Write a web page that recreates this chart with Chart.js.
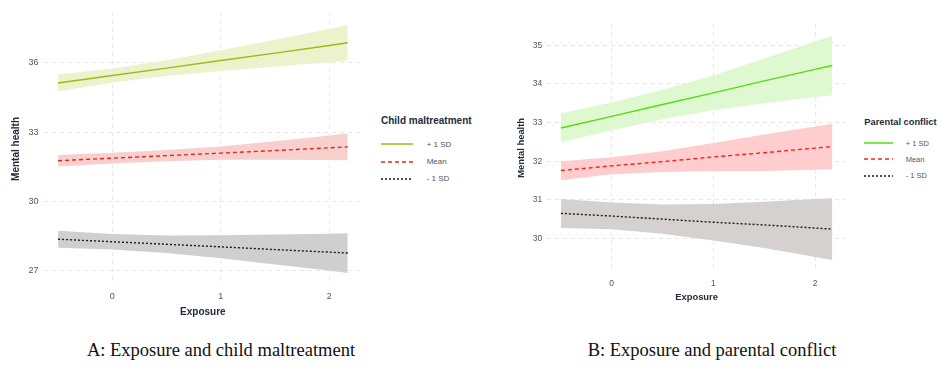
<!DOCTYPE html>
<html>
<head>
<meta charset="utf-8">
<script src="https://cdn.jsdelivr.net/npm/chart.js@4.4.0/dist/chart.umd.min.js"></script>
<style>
body { margin: 0; background: #fff; width: 939px; height: 374px; overflow: hidden; position: relative; font-family: "Liberation Sans", Arial, sans-serif; }
canvas { position: absolute; top: 0; }
#chartA { left: 0; }
#chartB { left: 480px; }
.lg-title { position: absolute; font-weight: bold; color: #222b3c; white-space: nowrap; }
.lg-label { position: absolute; color: #4d5566; white-space: nowrap; }
.lg-line { position: absolute; }
.caption { position: absolute; top: 340px; font-family: "Liberation Serif", "Times New Roman", serif; font-size: 18.5px; color: #111; white-space: nowrap; transform: translateX(-50%); }
</style>
</head>
<body>
<canvas id="chartA" width="370" height="330"></canvas>
<canvas id="chartB" width="375" height="330"></canvas>
<div id="legendA"></div>
<div id="legendB"></div>
<div class="caption" style="left:221px">A: Exposure and child maltreatment</div>
<div class="caption" style="left:712px">B: Exposure and parental conflict</div>
<script>
// exposure values where the fitted lines / ribbons were read
var exposure = [-0.5, 0, 0.5, 1, 1.5, 2, 2.17];
var seriesNames = ['+ 1 SD', 'Mean', '- 1 SD'];
var xTicks = [0, 1, 2];

// A: child maltreatment
var aHighFit   = [35.13, 35.45, 35.77, 36.10, 36.42, 36.75, 36.87];
var aHighUpper = [35.50, 35.75, 36.11, 36.55, 37.00, 37.47, 37.64];
var aHighLower = [34.76, 35.15, 35.43, 35.65, 35.84, 36.03, 36.10];
var aMeanFit   = [31.76, 31.87, 31.98, 32.09, 32.20, 32.32, 32.36];
var aMeanUpper = [32.01, 32.10, 32.22, 32.38, 32.60, 32.85, 32.94];
var aMeanLower = [31.51, 31.64, 31.74, 31.80, 31.80, 31.79, 31.78];
var aLowFit    = [28.36, 28.25, 28.14, 28.03, 27.91, 27.80, 27.76];
var aLowUpper  = [28.73, 28.59, 28.52, 28.53, 28.56, 28.60, 28.62];
var aLowLower  = [27.99, 27.91, 27.76, 27.53, 27.26, 27.00, 26.90];
var yTicksA = [27, 30, 33, 36];

// B: parental conflict
var bHighFit   = [32.86, 33.16, 33.47, 33.77, 34.08, 34.38, 34.48];
var bHighUpper = [33.24, 33.52, 33.85, 34.22, 34.66, 35.10, 35.25];
var bHighLower = [32.49, 32.80, 33.09, 33.32, 33.50, 33.66, 33.71];
var bMeanFit   = [31.76, 31.88, 31.99, 32.11, 32.22, 32.34, 32.38];
var bMeanUpper = [32.00, 32.10, 32.26, 32.47, 32.69, 32.90, 32.97];
var bMeanLower = [31.51, 31.66, 31.72, 31.75, 31.75, 31.78, 31.79];
var bLowFit    = [30.65, 30.58, 30.50, 30.42, 30.35, 30.27, 30.24];
var bLowUpper  = [31.02, 30.93, 30.88, 30.89, 30.95, 31.02, 31.04];
var bLowLower  = [30.27, 30.24, 30.12, 29.95, 29.75, 29.52, 29.44];
var yTicksB = [30, 31, 32, 33, 34, 35];

Chart.defaults.font.family = '"Liberation Sans", Arial, sans-serif';
Chart.defaults.animation = false;

var dashes = [[], [4, 3], [2, 2]];

function pts(ys) {
    return exposure.map(function (x, i) { return { x: x, y: ys[i] }; });
}

// ggplot style 5% expansion of the data range
function expand(arrs) {
    var all = [].concat.apply([], arrs);
    var lo = Math.min.apply(null, all), hi = Math.max.apply(null, all);
    var pad = (hi - lo) * 0.05;
    return [lo - pad, hi + pad];
}

function makePanel(id, p) {
    var fits = [p.fit[0], p.fit[1], p.fit[2]];
    var datasets = [];
    for (var i = 0; i < 3; i++) {
        datasets.push({
            label: seriesNames[i],
            data: pts(fits[i]),
            borderColor: p.lineColors[i],
            borderWidth: 1.4,
            borderDash: dashes[i],
            pointRadius: 0,
            fill: false
        });
    }
    for (var j = 0; j < 3; j++) {
        datasets.push({
            data: pts(p.upper[j]),
            borderWidth: 0,
            backgroundColor: p.bandColors[j],
            pointRadius: 0,
            fill: '+1'
        });
        datasets.push({
            data: pts(p.lower[j]),
            borderWidth: 0,
            pointRadius: 0,
            fill: false
        });
    }
    var xr = expand([exposure]);
    var yr = expand(p.upper.concat(p.lower));
    var grid = { color: '#e6e6e6', lineWidth: 1, drawTicks: false };
    var border = { display: false, dash: [4, 4] };

    return new Chart(document.getElementById(id).getContext('2d'), {
        type: 'line',
        data: { datasets: datasets },
        options: {
            responsive: false,
            layout: { padding: p.padding },
            plugins: { legend: { display: false }, tooltip: { enabled: false } },
            scales: {
                x: {
                    type: 'linear',
                    min: xr[0],
                    max: xr[1],
                    afterBuildTicks: function (s) { s.ticks = xTicks.map(function (v) { return { value: v }; }); },
                    afterFit: function (s) { s.height = p.xHeight; },
                    grid: grid,
                    border: border,
                    ticks: { color: '#4d5566', font: { size: p.tickSize }, padding: p.xTickPad, maxRotation: 0, autoSkip: false },
                    title: { display: true, text: 'Exposure', color: '#222b3c', font: { size: p.titleSize, weight: 'bold' }, padding: { top: 0, bottom: p.xTitlePad } }
                },
                y: {
                    type: 'linear',
                    min: yr[0],
                    max: yr[1],
                    afterBuildTicks: function (s) { s.ticks = p.yTicks.map(function (v) { return { value: v }; }); },
                    afterFit: function (s) { s.width = p.yWidth; },
                    grid: grid,
                    border: border,
                    ticks: { color: '#4d5566', font: { size: p.tickSize }, padding: 5, autoSkip: false },
                    title: { display: true, text: 'Mental health', color: '#222b3c', font: { size: p.titleSize, weight: 'bold' }, padding: { top: p.yTitlePad, bottom: 0 } }
                }
            }
        }
    });
}

makePanel('chartA', {
    fit: [aHighFit, aMeanFit, aLowFit],
    upper: [aHighUpper, aMeanUpper, aLowUpper],
    lower: [aHighLower, aMeanLower, aLowLower],
    yTicks: yTicksA,
    lineColors: ['#9cba12', '#e3261f', '#1a1a1a'],
    bandColors: ['#ecf2cc', '#f7cfcc', '#cfcfcf'],
    padding: { left: 0, top: 12.6, right: 7.8, bottom: 0 },
    yWidth: 43.6, xHeight: 44.7,
    tickSize: 9, titleSize: 10, xTickPad: 6, xTitlePad: 11.3, yTitlePad: 10
});

makePanel('chartB', {
    fit: [bHighFit, bMeanFit, bLowFit],
    upper: [bHighUpper, bMeanUpper, bLowUpper],
    lower: [bHighLower, bMeanLower, bLowLower],
    yTicks: yTicksB,
    lineColors: ['#55dd11', '#ff1f1f', '#1a1a1a'],
    bandColors: ['#def8cf', '#ffcdcd', '#d5d1d1'],
    padding: { left: 0, top: 24.5, right: 9.1, bottom: 0 },
    yWidth: 67.3, xHeight: 58.7,
    tickSize: 8.5, titleSize: 9.4, xTickPad: 7, xTitlePad: 27.3, yTitlePad: 35.7
});

function makeLegend(id, title, colors, l) {
    var el = document.getElementById(id);
    var html = '<div class="lg-title" style="left:' + l.x + 'px;top:' + (l.titleY - l.titleSize * 0.6) + 'px;font-size:' + l.titleSize + 'px;line-height:' + (l.titleSize * 1.2) + 'px">' + title + '</div>';
    for (var i = 0; i < 3; i++) {
        var y = l.rows[i];
        html += '<svg class="lg-line" style="left:' + l.x + 'px;top:' + (y - 3) + 'px" width="' + l.lineW + '" height="6">' +
            '<line x1="0" y1="3" x2="' + l.lineW + '" y2="3" stroke="' + colors[i] + '" stroke-width="1.5" stroke-dasharray="' + (dashes[i].join(' ') || 'none') + '"/></svg>';
        html += '<div class="lg-label" style="left:' + l.labelX + 'px;top:' + (y - l.labelSize * 0.6) + 'px;font-size:' + l.labelSize + 'px;line-height:' + (l.labelSize * 1.2) + 'px">' + seriesNames[i] + '</div>';
    }
    el.innerHTML = html;
}

makeLegend('legendA', 'Child maltreatment', ['#9cba12', '#e3261f', '#1a1a1a'],
    { x: 381, titleY: 120.7, titleSize: 10, rows: [144.3, 162, 179], lineW: 32, labelX: 426.7, labelSize: 8 });
makeLegend('legendB', 'Parental conflict', ['#55dd11', '#ff1f1f', '#1a1a1a'],
    { x: 864.3, titleY: 122.7, titleSize: 9.3, rows: [143.3, 159.3, 175.7], lineW: 29, labelX: 905.7, labelSize: 7.5 });
</script>
</body>
</html>
